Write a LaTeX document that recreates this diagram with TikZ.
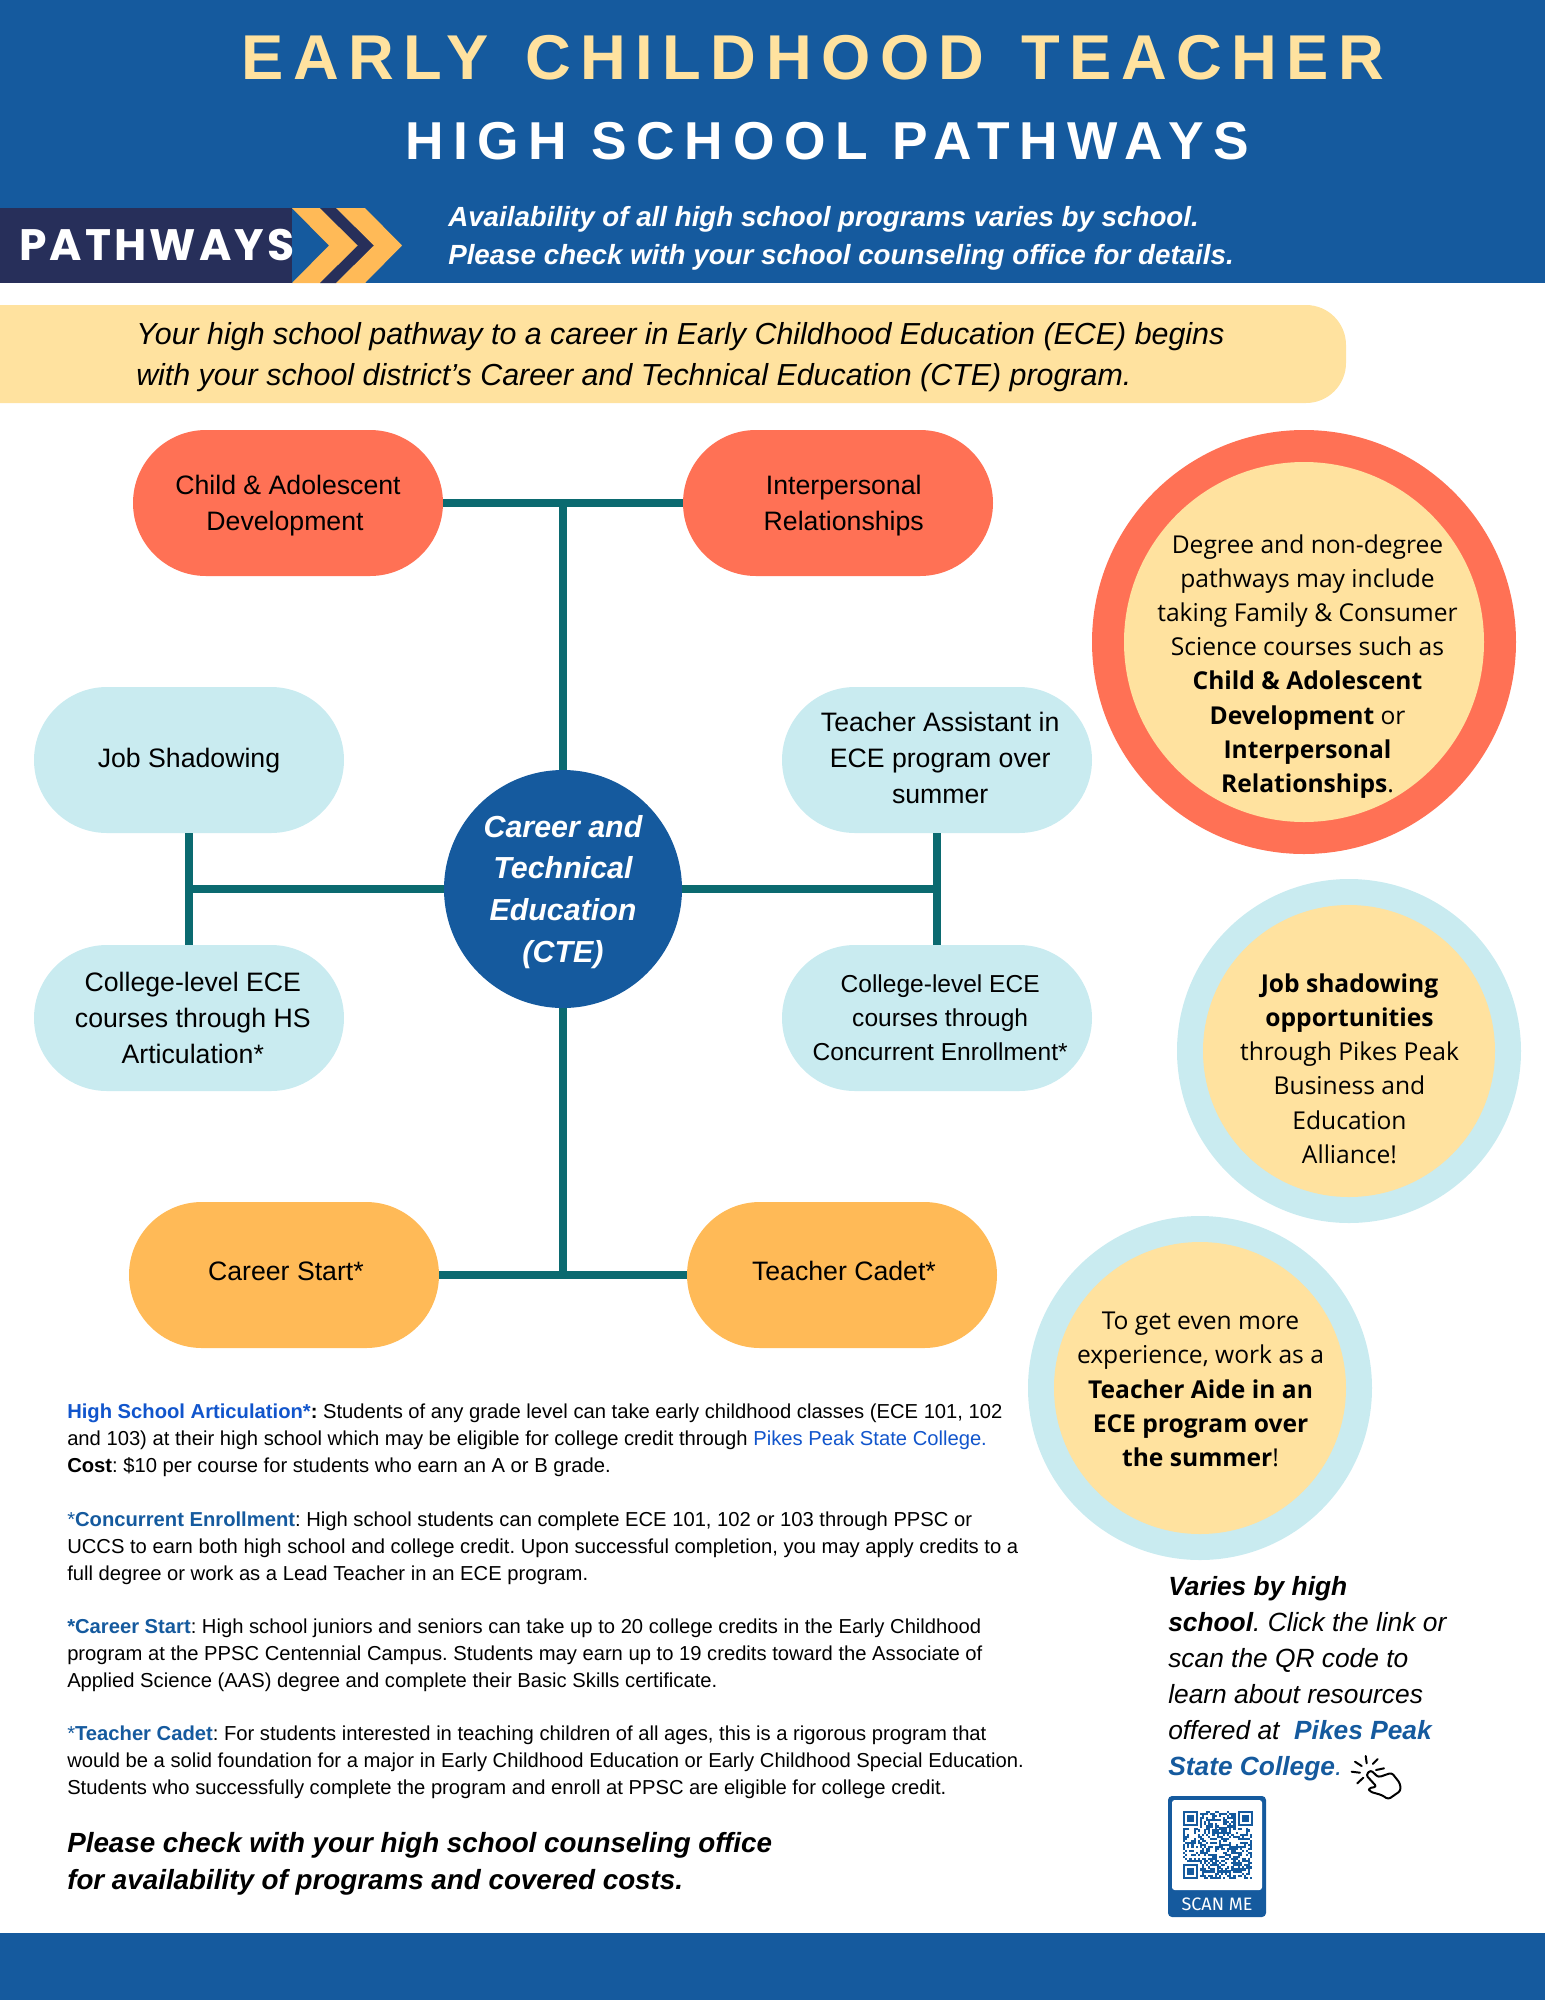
\documentclass[tikz,border=0pt]{standalone}
\usepackage{fontspec}
\usetikzlibrary{shapes.misc}
\setmainfont{Liberation Sans}
\newfontfamily\titlefont[LetterSpace=15,WordSpace=1.35]{Liberation Sans}
\newfontfamily\subtitlefont[LetterSpace=18]{Liberation Sans}
\newfontfamily\pathfont[LetterSpace=7]{Poppins}
\newfontfamily\circfont{Open Sans}
\newfontfamily\scanfont{Fira Sans}
\definecolor{bannerblue}{HTML}{155A9E}
\definecolor{darknavy}{HTML}{272F5A}
\definecolor{chevron}{HTML}{FFBA57}
\definecolor{cream}{HTML}{FFE29F}
\definecolor{coral}{HTML}{FF7155}
\definecolor{pale}{HTML}{C9EBF0}
\definecolor{teal}{HTML}{0B6A70}
\definecolor{linkblue}{HTML}{1155CC}
\newcommand\lines[2][0pt]{\kern#1\begin{tabular}{@{}c@{}}#2\end{tabular}}
\newcommand\movedown[2]{\vbox{\kern#1\hbox{#2}}}
\newcommand\moveup[2]{\vbox{\hbox{#2}\kern#1}}
\newcommand\lab[1]{\textcolor{bannerblue}{#1}}
\tikzset{
  pill/.style={rounded rectangle,rounded rectangle arc length=180,minimum width=232.5pt,minimum height=109.5pt,inner sep=0pt,text=black,align=center},
  coralpill/.style={pill,fill=coral},
  palepill/.style={pill,fill=pale},
  orangepill/.style={pill,fill=chevron},
  pilltext/.style={font=\fontsize{20}{27}\selectfont},
  smallpilltext/.style={font=\fontsize{18.4}{25.5}\selectfont},
  link/.style={line width=6.6pt,draw=teal},
  bodytext/.style={anchor=north west,inner sep=0pt,align=left,font=\fontsize{15.15}{20.25}\selectfont},
  circtext/.style={align=center,inner sep=0pt,text=black,font=\circfont\fontsize{18.45}{25.6}\selectfont},
}
\begin{document}
\frenchspacing
\begin{tikzpicture}[x=0.75pt,y=-0.75pt]
\useasboundingbox (0,0) rectangle (1545,2000);
% banners
\fill[bannerblue] (0,0) rectangle (1545,283);
\fill[bannerblue] (0,1933) rectangle (1545,2000);
\fill[darknavy] (0,208) rectangle (292,283);
\fill[chevron] (292,208) -- (320,208) -- (358,245.5) -- (320,283) -- (292,283) -- (329,245.5) -- cycle;
\fill[darknavy] (320,208) -- (336,208) -- (374,245.5) -- (336,283) -- (320,283) -- (358,245.5) -- cycle;
\fill[chevron] (336,208) -- (365,208) -- (402,245.5) -- (365,283) -- (336,283) -- (374,245.5) -- cycle;
\node[anchor=west,inner sep=0pt,text=white,font=\pathfont\bfseries\fontsize{33}{33}\selectfont] (pathways) at (19,245) {PATHWAYS};
\node[anchor=base,inner sep=0pt,text=cream,font=\titlefont\bfseries\fontsize{47.5}{47.5}\selectfont] (title) at (813,79) {EARLY CHILDHOOD TEACHER};
\node[anchor=base,inner sep=0pt,text=white,font=\subtitlefont\bfseries\fontsize{40}{40}\selectfont] (subtitle) at (827,159) {HIGH SCHOOL PATHWAYS};
\node[anchor=north west,inner sep=0pt,align=left,text=white,font=\bfseries\itshape\fontsize{20.8}{28.5}\selectfont] (note) at (448,206.5) {Availability of all high school programs varies by school.\\Please check with your school counseling office for details.};
% intro band
\fill[cream] (0,305) -- (1300,305) [rounded corners=30pt] -- (1346,305) -- (1346,403) [sharp corners] -- (0,403) -- cycle;
\node[anchor=north west,inner sep=0pt,align=left,text=black,font=\itshape\fontsize{22.8}{30.6}\selectfont] (intro) at (136,322) {Your high school pathway to a career in Early Childhood Education (ECE) begins\\with your school district’s Career and Technical Education (CTE) program.};
% pills
\node[coralpill,pilltext] (child) at (288,503) {\movedown{3pt}{\lines{Child \& Adolescent\\Development\kern4.5pt}}};
\node[coralpill,pilltext] (inter) at (838,503) {\movedown{3pt}{\lines[8.6pt]{Interpersonal\\Relationships}}};
\node[palepill,pilltext] (shadow) at (189,760) {\lines{Job Shadowing}};
\node[palepill,pilltext] (assist) at (937,760) {\lines[4.8pt]{Teacher Assistant in\\ECE program over\\summer}};
\node[palepill,pilltext] (artic) at (189,1018) {\movedown{3.9pt}{\lines[5.7pt]{College-level ECE\\courses through HS\\Articulation*}}};
\node[palepill,smallpilltext] (concur) at (937,1018) {\movedown{1.9pt}{\lines[4.8pt]{College-level ECE\\courses through\\Concurrent Enrollment*}}};
\node[orangepill,pilltext] (start) at (284,1275) {\moveup{1.9pt}{\lines[2.9pt]{Career Start*}}};
\node[orangepill,pilltext] (cadet) at (842,1275) {\moveup{1.9pt}{\lines[2.9pt]{Teacher Cadet*}}};
\node[circle,fill=bannerblue,minimum size=178.5pt,inner sep=0pt,align=center,text=white,font=\bfseries\itshape\fontsize{22.8}{31.3}\selectfont] (cte) at (563,889) {\movedown{3.4pt}{\lines{Career and\\Technical\\Education\\(CTE)}}};
% connectors
\coordinate (topjoin) at (cte.north |- child.east);
\coordinate (botjoin) at (cte.south |- start.east);
\coordinate (leftjoin) at (shadow.south |- cte.west);
\coordinate (rightjoin) at (assist.south |- cte.east);
\draw[link] (child.east) -- (inter.west);
\draw[link] (topjoin) -- (cte.north);
\draw[link] (cte.south) -- (botjoin);
\draw[link] (start.east) -- (cadet.west);
\draw[link] (shadow.south) -- (artic.north);
\draw[link] (assist.south) -- (concur.north);
\draw[link] (cte.west) -- (leftjoin);
\draw[link] (cte.east) -- (rightjoin);
% circles
\node[circle,fill=coral,minimum size=318pt,inner sep=0pt] (c1o) at (1304,642) {};
\node[circle,fill=cream,minimum size=270pt,inner sep=0pt] (c1i) at (c1o.center) {};
\node[circtext] (c1t) at (1307.5,666.5) {Degree and non-degree\\pathways may include\\taking Family \& Consumer\\Science courses such as\\\textbf{Child \& Adolescent}\\\textbf{Development} or\\\textbf{Interpersonal}\\\textbf{Relationships}.};
\node[circle,fill=pale,minimum size=258pt,inner sep=0pt] (c2o) at (1349,1051) {};
\node[circle,fill=cream,minimum size=219pt,inner sep=0pt] (c2i) at (c2o.center) {};
\node[circtext] (c2t) at (1349.5,1068.7) {\textbf{Job shadowing}\\\textbf{opportunities}\\through Pikes Peak\\Business and\\Education\\Alliance!};
\node[circle,fill=pale,minimum size=258pt,inner sep=0pt] (c3o) at (1200,1388) {};
\node[circle,fill=cream,minimum size=219pt,inner sep=0pt] (c3i) at (c3o.center) {};
\node[circtext] (c3t) at (1200.5,1389.5) {To get even more\\experience, work as a\\\textbf{Teacher Aide in an}\\\textbf{ECE program over}\\\textbf{the summer}!};
% body text
\node[bodytext] (p1) at (67,1404) {\textbf{\textcolor{linkblue}{High School Articulation*}:} Students of any grade level can take early childhood classes (ECE 101, 102\\and 103) at their high school which may be eligible for college credit through \textcolor{linkblue}{Pikes Peak State College.}\\\textbf{Cost}: \$10 per course for students who earn an A or B grade.};
\node[bodytext] (p2) at (67,1512) {\lab{*}\textbf{\lab{Concurrent Enrollment}}: High school students can complete ECE 101, 102 or 103 through PPSC or\\UCCS to earn both high school and college credit. Upon successful completion, you may apply credits to a\\full degree or work as a Lead Teacher in an ECE program.};
\node[bodytext] (p3) at (67,1619) {\textbf{\lab{*Career Start}}: High school juniors and seniors can take up to 20 college credits in the Early Childhood\\program at the PPSC Centennial Campus. Students may earn up to 19 credits toward the Associate of\\Applied Science (AAS) degree and complete their Basic Skills certificate.};
\node[bodytext] (p4) at (67,1726) {\lab{*}\textbf{\lab{Teacher Cadet}}: For students interested in teaching children of all ages, this is a rigorous program that\\would be a solid foundation for a major in Early Childhood Education or Early Childhood Special Education.\\Students who successfully complete the program and enroll at PPSC are eligible for college credit.};
\node[anchor=north west,inner sep=0pt,align=left,text=black,font=\bfseries\itshape\fontsize{20.83}{27.75}\selectfont] (closing) at (67,1832.5) {Please check with your high school counseling office\\for availability of programs and covered costs.};
\node[anchor=north west,inner sep=0pt,align=left,text=black,font=\itshape\fontsize{19.75}{27}\selectfont] (varies) at (1168,1576.5) {\textbf{Varies by high}\\\textbf{school}. Click the link or\\scan the QR code to\\learn about resources\\offered at \ \textbf{\lab{Pikes Peak}}\\\textbf{\lab{State College}}\lab{.}};
% hand icon
\draw[line width=1.5pt,line cap=round] (1351.7,1771.7) -- (1360,1772.7) (1355,1761.7) -- (1361.7,1766) (1365.7,1756) -- (1366.7,1763.3) (1377.7,1759) -- (1372.7,1764) (1384,1768.3) -- (1376,1770) (1357.3,1783.3) -- (1363.3,1777.7);
\draw[line width=1.5pt,line join=round,rounded corners=2pt,fill=white] (1366,1775) -- (1370.7,1770) -- (1378.3,1777.3) -- (1391.7,1772.7) -- (1400,1783.3) -- (1400.7,1790.7) -- (1388.3,1799.3) -- (1381.7,1795) -- (1370,1791.7) -- (1368.3,1788.3) -- (1376.7,1786.7) -- cycle;
% QR badge
\fill[bannerblue,rounded corners=3pt] (1168,1796) rectangle (1266,1917);
\fill[white,rounded corners=2pt] (1172,1800) rectangle (1262,1890);
\pgfmathsetseed{4242}
\begin{scope}[bannerblue]
\foreach \i in {0,...,32}{\foreach \j in {0,...,32}{
  \pgfmathparse{rnd<0.5?1:0}
  \ifnum\pgfmathresult=1\fill (1183+\i*2.1,1811+\j*2.05) rectangle ++(2.2,2.15);\fi
}}
\foreach \a/\b in {1183/1811,1238/1811,1183/1864}{
  \fill[white] (\a-2,\b-2) rectangle ++(18.5,18.5);
  \fill (\a,\b) rectangle ++(14.7,14.7);
  \fill[white] (\a+2.1,\b+2.1) rectangle ++(10.5,10.5);
  \fill (\a+4.2,\b+4.2) rectangle ++(6.3,6.3);
}
\end{scope}
\node[text=white,inner sep=0pt,font=\scanfont\fontsize{13.5}{13.5}\selectfont] (scan) at (1217,1904) {SCAN ME};
\end{tikzpicture}
\end{document}
